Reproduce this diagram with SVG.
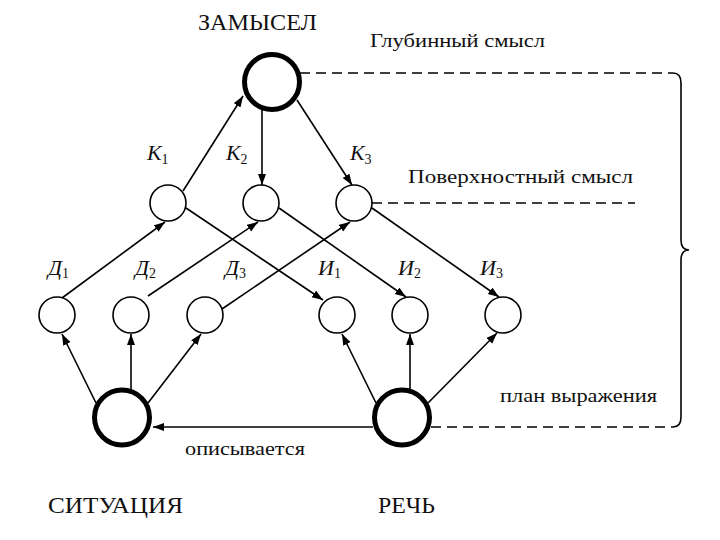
<svg xmlns="http://www.w3.org/2000/svg" width="720" height="540" viewBox="0 0 720 540">
<defs>
<marker id="ah" markerUnits="userSpaceOnUse" markerWidth="12" markerHeight="10" refX="11" refY="4" orient="auto">
<path d="M0,0 L11,4 L0,8 z" fill="#000"/>
</marker>
<style>
.t{font-family:"Liberation Serif","DejaVu Serif",serif;fill:#111}
.lab{font-family:"Liberation Serif","DejaVu Serif",serif;font-style:italic;font-size:22px;fill:#111}
.sub{font-style:normal;font-size:14px}
.n{fill:#fff;stroke:#000;stroke-width:1.6}
.big{fill:#fff;stroke:#000;stroke-width:5}
.e{stroke:#000;stroke-width:1.6;fill:none;marker-end:url(#ah)}
.d{stroke:#000;stroke-width:1.6;fill:none;stroke-dasharray:10,6}
</style>
</defs>
<rect width="720" height="540" fill="#fff"/>

<g id="connectors">
<line class="e" x1="183" y1="191" x2="243" y2="96"/>
<line class="e" x1="262" y1="109" x2="262" y2="185"/>
<line class="e" x1="297" y1="100" x2="352" y2="185"/>
<line class="e" x1="62" y1="298" x2="165" y2="222"/>
<line class="e" x1="148" y1="296" x2="258" y2="222"/>
<line class="e" x1="222" y1="309" x2="350" y2="222"/>
<line class="e" x1="186" y1="208" x2="323" y2="300"/>
<line class="e" x1="279" y1="208" x2="406" y2="297"/>
<line class="e" x1="372" y1="208" x2="499" y2="297"/>
<line class="e" x1="96" y1="403" x2="62" y2="334"/>
<line class="e" x1="131" y1="389" x2="131" y2="334"/>
<line class="e" x1="148" y1="403" x2="201" y2="334"/>
<line class="e" x1="376" y1="403" x2="342" y2="334"/>
<line class="e" x1="410" y1="389" x2="410" y2="334"/>
<line class="e" x1="428" y1="403" x2="497" y2="333"/>
<line class="e" x1="373" y1="427" x2="153" y2="427"/>
<line class="d" x1="300" y1="73" x2="673" y2="73"/>
<line class="d" x1="372" y1="203" x2="635" y2="203"/>
<line class="d" x1="431" y1="427" x2="673" y2="427"/>
<path d="M673,73 Q681,73 681,83 L681,240 Q681,250 689,250 Q681,250 681,260 L681,417 Q681,427 673,427" fill="none" stroke="#000" stroke-width="1.6"/>
</g>

<g id="zamysel">
<circle class="big" cx="272" cy="82" r="27.5"/>
<text class="t" x="198" y="30" font-size="24" textLength="119" lengthAdjust="spacingAndGlyphs">ЗАМЫСЕЛ</text>
</g>
<g id="k1"><circle class="n" cx="168" cy="203" r="18"/><text class="lab" x="147" y="160">К<tspan class="sub" dy="4">1</tspan></text></g>
<g id="k2"><circle class="n" cx="261" cy="203" r="18"/><text class="lab" x="226" y="160">К<tspan class="sub" dy="4">2</tspan></text></g>
<g id="k3"><circle class="n" cx="354" cy="203" r="18"/><text class="lab" x="350" y="160">К<tspan class="sub" dy="4">3</tspan></text></g>
<g id="d1"><circle class="n" cx="57" cy="315" r="18"/><text class="lab" x="48" y="275">Д<tspan class="sub" dy="3">1</tspan></text></g>
<g id="d2"><circle class="n" cx="131" cy="315" r="18"/><text class="lab" x="135" y="275">Д<tspan class="sub" dy="3">2</tspan></text></g>
<g id="d3"><circle class="n" cx="205" cy="315" r="18"/><text class="lab" x="225" y="275">Д<tspan class="sub" dy="3">3</tspan></text></g>
<g id="i1"><circle class="n" cx="337" cy="315" r="18"/><text class="lab" x="318" y="275">И<tspan class="sub" dy="3">1</tspan></text></g>
<g id="i2"><circle class="n" cx="410" cy="315" r="18"/><text class="lab" x="398" y="275">И<tspan class="sub" dy="3">2</tspan></text></g>
<g id="i3"><circle class="n" cx="503" cy="315" r="18"/><text class="lab" x="480" y="275">И<tspan class="sub" dy="3">3</tspan></text></g>
<g id="situacia">
<circle class="big" cx="122" cy="417.5" r="27.5"/>
<text class="t" x="48" y="513" font-size="23" textLength="135" lengthAdjust="spacingAndGlyphs">СИТУАЦИЯ</text>
</g>
<g id="rech">
<circle class="big" cx="402" cy="417.5" r="27.5"/>
<text class="t" x="378" y="513" font-size="23" textLength="57" lengthAdjust="spacingAndGlyphs">РЕЧЬ</text>
</g>
<g id="labels">
<text class="t" x="370" y="47" font-size="19" textLength="175" lengthAdjust="spacingAndGlyphs">Глубинный смысл</text>
<text class="t" x="408" y="183" font-size="19" textLength="225" lengthAdjust="spacingAndGlyphs">Поверхностный  смысл</text>
<text class="t" x="500" y="402" font-size="19" textLength="157" lengthAdjust="spacingAndGlyphs">план выражения</text>
<text class="t" x="185" y="455" font-size="19" textLength="120" lengthAdjust="spacingAndGlyphs">описывается</text>
</g>
</svg>
